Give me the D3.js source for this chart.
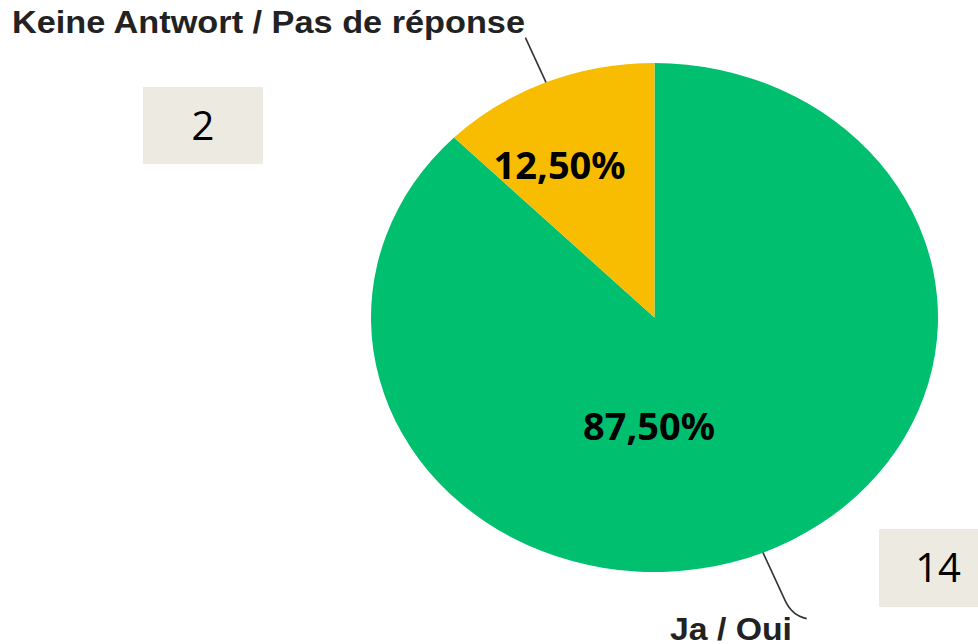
<!DOCTYPE html>
<html lang="en">
<head>
  <meta charset="UTF-8">
  <title>Ja / Oui</title>
  <style>
    body { margin: 0; background: #fff; }
    svg { display: block; }
  </style>
</head>
<body>
  <svg id="svg" width="978" height="644"></svg>

  <script src="https://d3js.org/d3.v7.min.js"></script>
  <script>
    // data
    const categories = ['Ja / Oui', 'Keine Antwort / Pas de réponse']
    const counts = [14, 2]
    const colors = ['#00bf6f', '#f8bd00']

    const data = categories.map((c, i) => ({ name: c, value: counts[i], color: colors[i] }))
    const total = d3.sum(counts)
    const fmt = v => d3.format('.2f')(v * 100).replace('.', ',') + '%'

    const cx = 654.5, cy = 317.5
    const rx = 283.5, ry = 254.5

    const svg = d3.select('#svg')

    const pie = d3.pie().sort(null).value(d => d.value)
    const arcs = pie(data)
    const arc = d3.arc().innerRadius(0).outerRadius(ry)

    // pie is stretched horizontally
    const pieGroup = svg.append('g')
      .attr('transform', `translate(${cx}, ${cy}) scale(${rx / ry}, 1)`)

    pieGroup.selectAll('path')
      .data(arcs)
      .enter()
      .append('path')
      .attr('d', arc)
      .attr('fill', d => d.data.color)

    // point on ellipse at angle a, fraction f of radius
    const pt = (a, f) => [cx + Math.sin(a) * rx * f, cy - Math.cos(a) * ry * f]
    const mid = d => (d.startAngle + d.endAngle) / 2

    // percentage labels (position: angle offset from mid, radius fraction)
    const labelPos = [[0.438, 0.427], [-0.117, 0.686]]
    svg.selectAll('text.pct')
      .data(arcs)
      .enter()
      .append('text')
      .attr('class', 'pct')
      .attr('x', (d, i) => pt(mid(d) + labelPos[i][0], labelPos[i][1])[0])
      .attr('y', (d, i) => pt(mid(d) + labelPos[i][0], labelPos[i][1])[1])
      .attr('text-anchor', 'middle')
      .attr('dy', '0.36em')
      .attr('font-family', 'Noto Sans, sans-serif')
      .attr('font-weight', 'bold')
      .attr('font-size', 38)
      .attr('fill', '#000')
      .text(d => fmt(d.value / total))

    // leader lines
    const line = svg.append('g')
      .attr('fill', 'none')
      .attr('stroke', '#333')
      .attr('stroke-width', 1.6)

    const yes = arcs[0], none = arcs[1]
    const s0 = pt(mid(yes), 1), e0 = pt(mid(yes), 1.2)
    line.append('path')
      .attr('d', `M${s0[0]},${s0[1]} L${e0[0]},${e0[1]} Q${e0[0] + 7},${e0[1] + 16} ${e0[0] + 22},${e0[1] + 19}`)

    const s1 = pt(mid(none), 1), e1 = pt(mid(none), 1.19)
    line.append('path')
      .attr('d', `M${s1[0]},${s1[1]} L${e1[0]},${e1[1]}`)

    // category labels
    const catFont = 'Liberation Sans, Arial, sans-serif'
    svg.append('text')
      .attr('x', 12)
      .attr('y', 33)
      .attr('textLength', 513)
      .attr('lengthAdjust', 'spacingAndGlyphs')
      .attr('font-family', catFont)
      .attr('font-weight', 'bold')
      .attr('font-size', 32)
      .attr('fill', '#222')
      .text(none.data.name)

    svg.append('text')
      .attr('x', 670)
      .attr('y', 640)
      .attr('textLength', 122)
      .attr('lengthAdjust', 'spacingAndGlyphs')
      .attr('font-family', catFont)
      .attr('font-weight', 'bold')
      .attr('font-size', 32)
      .attr('fill', '#222')
      .text(yes.data.name)

    // count boxes
    const boxes = [
      { v: counts[1], x: 143, y: 87, w: 120, h: 77 },
      { v: counts[0], x: 879, y: 529, w: 120, h: 78 }
    ]
    const bg = svg.selectAll('g.box')
      .data(boxes)
      .enter()
      .append('g')
      .attr('class', 'box')
    bg.append('rect')
      .attr('x', d => d.x).attr('y', d => d.y)
      .attr('width', d => d.w).attr('height', d => d.h)
      .attr('fill', '#edebe1')
    bg.append('text')
      .attr('x', (d, i) => i === 0 ? d.x + d.w / 2 : d.x + 59)
      .attr('y', d => d.y + d.h / 2)
      .attr('dy', '0.36em')
      .attr('text-anchor', 'middle')
      .attr('font-family', 'Open Sans, sans-serif')
      .attr('font-size', 40)
      .attr('fill', '#000')
      .text(d => d.v)
  </script>
</body>
</html>
